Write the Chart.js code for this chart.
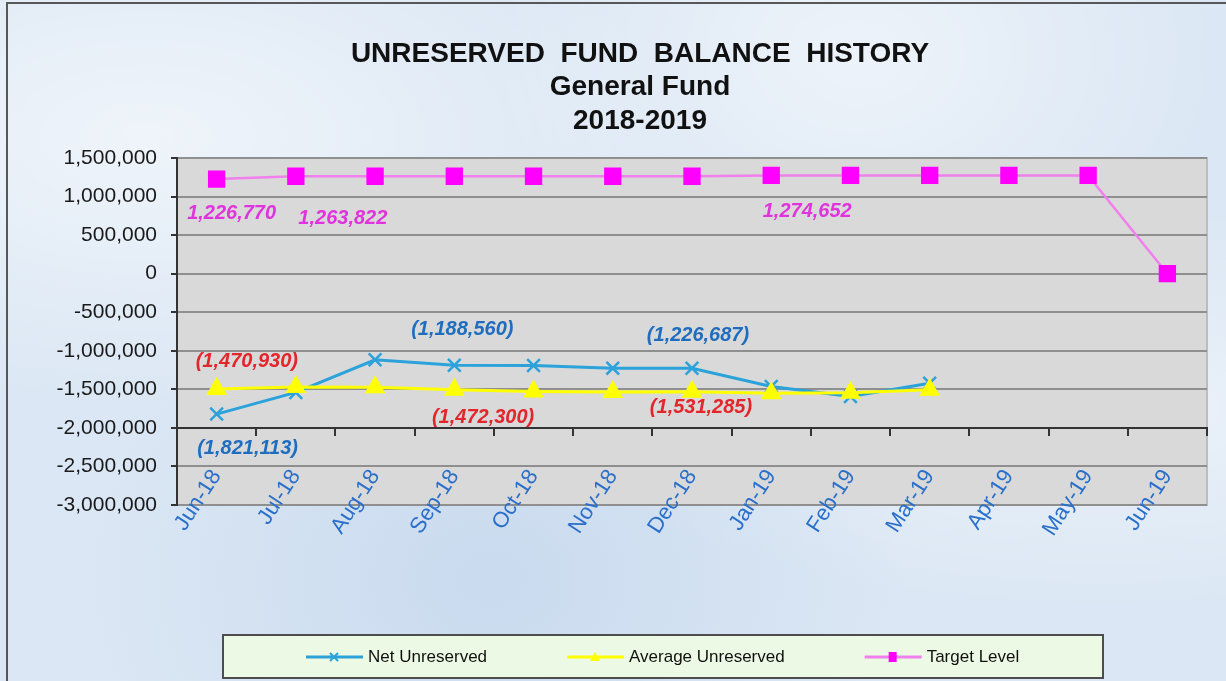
<!DOCTYPE html>
<html>
<head>
<meta charset="utf-8">
<title>Unreserved Fund Balance History</title>
<script src="https://cdn.jsdelivr.net/npm/chart.js@4.4.0/dist/chart.umd.min.js"></script>
<style>
  html, body { margin: 0; padding: 0; }
  body {
    width: 1226px; height: 681px; overflow: hidden; position: relative;
    background-color: #dbe7f4;
    background-image:
      radial-gradient(ellipse at 12% 20%, rgba(255,255,255,0.55), rgba(255,255,255,0) 35%),
      radial-gradient(ellipse at 70% 8%, rgba(255,255,255,0.5), rgba(255,255,255,0) 30%),
      radial-gradient(ellipse at 40% 85%, rgba(190,210,235,0.6), rgba(190,210,235,0) 40%),
      radial-gradient(ellipse at 90% 60%, rgba(255,255,255,0.45), rgba(255,255,255,0) 35%);
  }
  #frame {
    position: absolute; left: 6px; top: 2px; width: 1240px; height: 700px;
    border-left: 2px solid #575757; border-top: 2px solid #575757;
  }
  canvas { position: absolute; left: 0; top: 0; }
</style>
</head>
<body>
<div id="frame"></div>
<canvas id="fundChart" width="1226" height="681"></canvas>
<script>
// 資料
const months = ["Jun-18", "Jul-18", "Aug-18", "Sep-18", "Oct-18", "Nov-18", "Dec-18",
                "Jan-19", "Feb-19", "Mar-19", "Apr-19", "May-19", "Jun-19"];
const netUnreserved = [-1821113, -1540000, -1117000, -1188560, -1190000, -1225000, -1226687,
                       -1464000, -1594000, -1420000, null, null, null];
const avgUnreserved = [-1497000, -1470930, -1472300, -1505000, -1528000, -1536000, -1531285,
                       -1550000, -1545000, -1505000, null, null, null];
const targetLevel = [1226770, 1263822, 1263822, 1263822, 1263822, 1263822, 1263822,
                     1274652, 1274652, 1274652, 1274652, 1274652, 0];
const yMin = -3000000;
const yMax = 1500000;
const yStep = 500000;
const xAxisAt = -2000000;
const titleLines = ["UNRESERVED  FUND  BALANCE  HISTORY", "General Fund", "2018-2019"];

// 數據標籤 (ds: 0 net, 1 avg, 2 target)
const pointLabels = [
  { ds: 2, i: 0, dx: 15, dy: 34 },
  { ds: 2, i: 1, dx: 47, dy: 42 },
  { ds: 2, i: 7, dx: 36, dy: 36 },
  { ds: 0, i: 0, dx: 31, dy: 34 },
  { ds: 0, i: 3, dx: 8, dy: -36 },
  { ds: 0, i: 6, dx: 6, dy: -33 },
  { ds: 1, i: 1, dx: -49, dy: -26 },
  { ds: 1, i: 2, dx: 108, dy: 30 },
  { ds: 1, i: 6, dx: 9, dy: 16 },
];
const labelColors = ["#1f6dbf", "#e3262b", "#e033dd"];
const fontFamily = "'Liberation Sans', Arial, sans-serif";

function fmtValue(v) {
  const s = Math.abs(v).toLocaleString("en-US");
  return v < 0 ? "(" + s + ")" : s;
}

// 灰色繪圖區 + 標題
const plotBackground = {
  id: "plotBackground",
  beforeDraw(chart) {
    const a = chart.chartArea;
    const ctx = chart.ctx;
    ctx.save();
    ctx.fillStyle = "#d9d9d9";
    ctx.fillRect(a.left, a.top, a.right - a.left, a.bottom - a.top);
    ctx.strokeStyle = "#bdbdbd";
    ctx.lineWidth = 2;
    ctx.strokeRect(a.left, a.top, a.right - a.left, a.bottom - a.top);

    ctx.fillStyle = "#111";
    ctx.font = "bold 28px " + fontFamily;
    ctx.textAlign = "center";
    ctx.textBaseline = "middle";
    titleLines.forEach((t, k) => ctx.fillText(t, 640, 54 + k * 33.5));
    ctx.restore();
  }
};

const valueLabels = {
  id: "valueLabels",
  afterDatasetsDraw(chart) {
    const ctx = chart.ctx;
    ctx.save();
    ctx.font = "italic bold 20px " + fontFamily;
    ctx.textAlign = "center";
    ctx.textBaseline = "middle";
    pointLabels.forEach(l => {
      const pt = chart.getDatasetMeta(l.ds).data[l.i];
      const v = chart.data.datasets[l.ds].data[l.i];
      ctx.fillStyle = labelColors[l.ds];
      ctx.fillText(fmtValue(v), pt.x + l.dx, pt.y + l.dy);
    });
    ctx.restore();
  }
};

function drawMarker(ctx, style, x, y, color) {
  ctx.fillStyle = color;
  ctx.strokeStyle = color;
  if (style === "crossRot") {
    ctx.lineWidth = 2;
    ctx.beginPath();
    ctx.moveTo(x - 4, y - 4); ctx.lineTo(x + 4, y + 4);
    ctx.moveTo(x + 4, y - 4); ctx.lineTo(x - 4, y + 4);
    ctx.stroke();
  } else if (style === "triangle") {
    ctx.beginPath();
    ctx.moveTo(x, y - 5); ctx.lineTo(x + 5, y + 4); ctx.lineTo(x - 5, y + 4);
    ctx.closePath();
    ctx.fill();
  } else {
    ctx.fillRect(x - 4, y - 5, 8, 10);
  }
}

// 圖例方框
const boxLegend = {
  id: "boxLegend",
  afterDraw(chart) {
    const ctx = chart.ctx;
    ctx.save();
    ctx.fillStyle = "#ecf9e4";
    ctx.strokeStyle = "#4d4d4d";
    ctx.lineWidth = 2;
    ctx.fillRect(223, 635, 880, 43);
    ctx.strokeRect(223, 635, 880, 43);
    ctx.font = "17px " + fontFamily;
    ctx.textBaseline = "middle";
    let x = 306;
    const y = 657;
    chart.data.datasets.forEach(ds => {
      ctx.strokeStyle = ds.borderColor;
      ctx.lineWidth = 3;
      ctx.beginPath();
      ctx.moveTo(x, y); ctx.lineTo(x + 57, y);
      ctx.stroke();
      drawMarker(ctx, ds.pointStyle, x + 28, y, ds.pointBackgroundColor || ds.borderColor);
      ctx.fillStyle = "#111";
      ctx.fillText(ds.label, x + 62, y);
      x += 62 + ctx.measureText(ds.label).width + 80;
    });
    ctx.restore();
  }
};

const ctx = document.getElementById("fundChart").getContext("2d");
new Chart(ctx, {
  type: "line",
  data: {
    labels: months,
    datasets: [
      {
        label: "Net Unreserved",
        data: netUnreserved,
        borderColor: "#2ba2da",
        backgroundColor: "#2ba2da",
        pointBackgroundColor: "#2ba2da",
        borderWidth: 3,
        pointStyle: "crossRot",
        pointRadius: 9,
        pointBorderWidth: 2.5,
        order: 1,
      },
      {
        label: "Average Unreserved",
        data: avgUnreserved,
        borderColor: "#ffff00",
        backgroundColor: "#ffff00",
        pointBackgroundColor: "#ffff00",
        pointBorderColor: "#ffff00",
        borderWidth: 3,
        pointStyle: "triangle",
        pointRadius: 9,
        order: 0,
      },
      {
        label: "Target Level",
        data: targetLevel,
        borderColor: "#f080ec",
        backgroundColor: "#ff00ff",
        pointBackgroundColor: "#ff00ff",
        pointBorderColor: "#ff00ff",
        borderWidth: 2.5,
        pointStyle: "rect",
        pointRadius: 10.5,
        order: 2,
      },
    ],
  },
  options: {
    responsive: false,
    animation: false,
    devicePixelRatio: 1,
    layout: { padding: { left: 0, right: 19, top: 158, bottom: 176 } },
    plugins: {
      legend: { display: false },
      tooltip: { enabled: false },
      title: { display: false },
    },
    scales: {
      x: {
        position: { y: xAxisAt },
        offset: true,
        grid: { drawOnChartArea: false, offset: true, tickLength: 7, tickColor: "#333", lineWidth: 2 },
        border: { color: "#333", width: 2 },
        ticks: {
          color: "#2a6fc9",
          font: { family: fontFamily, size: 22 },
          minRotation: 57,
          maxRotation: 57,
          padding: 30,
          autoSkip: false,
        },
      },
      y: {
        min: yMin,
        max: yMax,
        grid: { color: "#8f8f8f", lineWidth: 2, tickLength: 6, tickColor: "#333" },
        border: { color: "#333", width: 2 },
        ticks: {
          stepSize: yStep,
          color: "#1a1a1a",
          font: { family: fontFamily, size: 21 },
          padding: 14,
        },
        afterFit(scale) { scale.width = 177; },
      },
    },
  },
  plugins: [plotBackground, valueLabels, boxLegend],
});
</script>
</body>
</html>
